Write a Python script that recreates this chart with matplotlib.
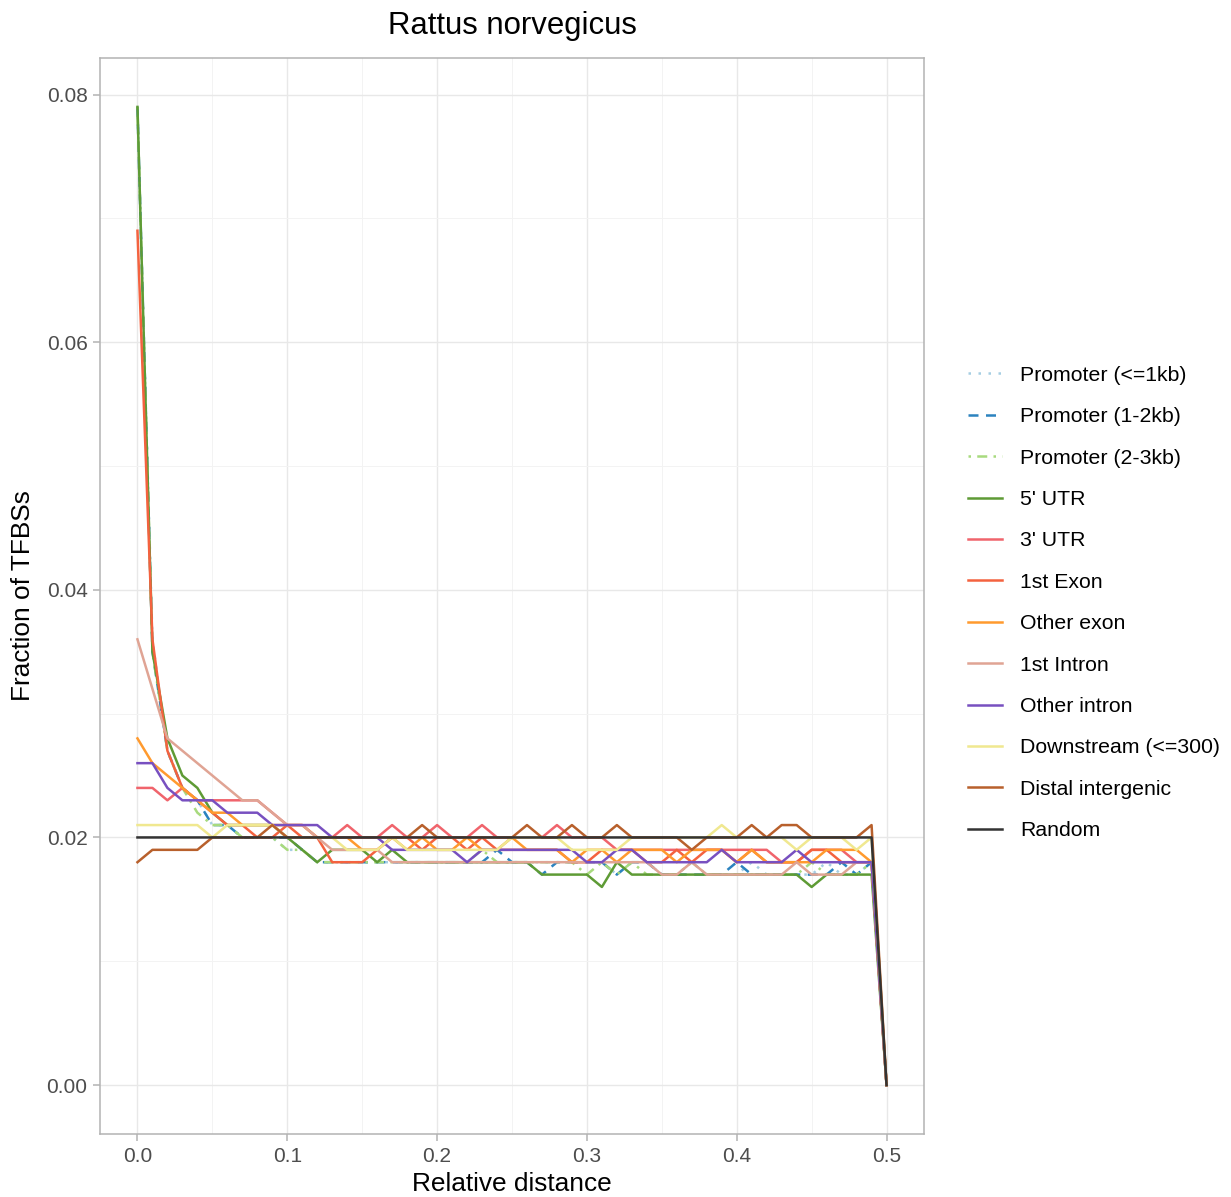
import numpy as np
import matplotlib
matplotlib.use("Agg")
import matplotlib.pyplot as plt
from matplotlib.ticker import MultipleLocator

plt.rcParams['font.family'] = ['Liberation Sans', 'DejaVu Sans']

# relative distance bins 0.00 .. 0.50
distance = np.round(np.arange(51) * 0.01, 2)

# fraction of TFBSs per bin (in units of 0.001)
promoter_1kb = [79, 36, 27, 24, 23, 21, 21, 20, 20, 20, 19, 19, 18, 18, 18, 18, 18, 18, 18, 18,
                18, 18, 18, 18, 18, 18, 18, 18, 18, 18, 18, 18, 17, 18, 18, 17, 17, 18, 17, 17,
                17, 18, 17, 17, 17, 17, 18, 17, 17, 18, 0]
promoter_2kb = [79, 35, 27, 24, 23, 21, 21, 20, 20, 20, 20, 19, 18, 18, 18, 18, 18, 18, 18, 18,
                18, 18, 18, 18, 19, 18, 18, 17, 18, 18, 18, 18, 17, 18, 18, 17, 17, 17, 17, 17,
                18, 17, 17, 17, 17, 17, 17, 18, 17, 18, 0]
promoter_3kb = [79, 35, 27, 24, 22, 21, 21, 20, 20, 20, 19, 19, 18, 18, 18, 18, 18, 18, 18, 18,
                18, 18, 18, 19, 18, 18, 18, 18, 18, 18, 17, 18, 17, 18, 17, 17, 17, 18, 17, 17,
                17, 17, 17, 17, 17, 18, 17, 17, 17, 18, 0]
utr5 = [79, 35, 28, 25, 24, 22, 21, 21, 21, 21, 20, 19, 18, 19, 19, 19, 18, 19, 18, 18,
        18, 18, 18, 18, 18, 18, 18, 17, 17, 17, 17, 16, 18, 17, 17, 17, 17, 17, 17, 17,
        17, 17, 17, 17, 17, 16, 17, 17, 17, 17, 0]
utr3 = [24, 24, 23, 24, 23, 23, 23, 23, 23, 22, 21, 21, 20, 20, 21, 20, 20, 21, 20, 20,
        21, 20, 20, 21, 20, 20, 20, 20, 21, 20, 20, 20, 19, 19, 19, 19, 19, 19, 19, 19,
        19, 19, 19, 18, 18, 19, 19, 19, 18, 18, 0]
exon1 = [69, 36, 27, 24, 23, 22, 21, 21, 20, 20, 21, 20, 20, 18, 18, 18, 19, 20, 20, 19,
         20, 20, 19, 20, 19, 19, 19, 19, 19, 18, 18, 19, 19, 19, 18, 18, 19, 18, 19, 19,
         18, 19, 18, 18, 18, 19, 19, 18, 18, 18, 0]
other_exon = [28, 26, 25, 24, 23, 22, 22, 21, 21, 21, 21, 21, 20, 20, 20, 19, 19, 20, 19, 20,
              19, 19, 20, 19, 19, 20, 19, 19, 19, 18, 19, 19, 18, 19, 19, 19, 18, 19, 19, 19,
              18, 19, 18, 18, 18, 18, 19, 19, 19, 18, 0]
intron1 = [36, 32, 28, 27, 26, 25, 24, 23, 23, 22, 21, 21, 20, 19, 19, 19, 19, 18, 18, 18,
           18, 18, 18, 18, 18, 18, 18, 18, 18, 18, 18, 18, 18, 18, 18, 17, 17, 18, 17, 17,
           17, 17, 17, 17, 18, 17, 17, 17, 18, 18, 0]
other_intron = [26, 26, 24, 23, 23, 23, 22, 22, 22, 21, 21, 21, 21, 20, 20, 20, 20, 19, 19, 19,
                19, 19, 18, 19, 19, 19, 19, 19, 19, 19, 18, 18, 19, 19, 18, 18, 18, 18, 18, 19,
                18, 18, 18, 18, 19, 18, 18, 18, 18, 18, 0]
downstream = [21, 21, 21, 21, 21, 20, 21, 21, 21, 21, 20, 20, 20, 20, 19, 19, 19, 20, 19, 19,
              19, 19, 19, 19, 19, 20, 20, 20, 20, 19, 19, 19, 19, 20, 20, 20, 20, 20, 20, 21,
              20, 20, 20, 20, 19, 20, 20, 20, 19, 20, 0]
distal = [18, 19, 19, 19, 19, 20, 20, 20, 20, 21, 20, 20, 20, 20, 20, 20, 20, 20, 20, 21,
          20, 20, 20, 20, 20, 20, 21, 20, 20, 21, 20, 20, 21, 20, 20, 20, 20, 19, 20, 20,
          20, 21, 20, 21, 21, 20, 20, 20, 20, 21, 0]
random_bg = [20] * 50 + [0]

labels = ["Promoter (<=1kb)", "Promoter (1-2kb)", "Promoter (2-3kb)", "5' UTR", "3' UTR",
          "1st Exon", "Other exon", "1st Intron", "Other intron", "Downstream (<=300)",
          "Distal intergenic", "Random"]
series = [promoter_1kb, promoter_2kb, promoter_3kb, utr5, utr3, exon1, other_exon,
          intron1, other_intron, downstream, distal, random_bg]
colors = ["#A6CEE3", "#2C83BF", "#A8DA7E", "#5E9B35", "#F0646C", "#F4623F", "#FF9A2E",
          "#E0A494", "#7850C0", "#F0E890", "#B8602C", "#333333"]
styles = [(0, (1, 3)), (0, (4, 3)), (0, (1, 2.5, 4, 2.5)), "-", "-", "-", "-", "-", "-", "-", "-", "-"]

fig = plt.figure(figsize=(12.31, 11.97), dpi=100)
ax = fig.add_axes([100 / 1231, 1 - 1134 / 1197, 824 / 1231, 1076 / 1197])

for lab, vals, col, ls in zip(labels, series, colors, styles):
    ax.plot(distance, np.array(vals) / 1000, color=col, linestyle=ls, lw=1.8, label=lab)

ax.set_xlim(-0.025, 0.525)
ax.set_ylim(-0.00395, 0.08295)
ax.xaxis.set_major_locator(MultipleLocator(0.1))
ax.xaxis.set_minor_locator(MultipleLocator(0.05))
ax.yaxis.set_major_locator(MultipleLocator(0.02))
ax.yaxis.set_minor_locator(MultipleLocator(0.01))
ax.xaxis.set_major_formatter(lambda v, p: f"{v:.1f}")
ax.yaxis.set_major_formatter(lambda v, p: f"{v:.2f}")
ax.grid(which="major", color="#E8E8E8", lw=1.0)
ax.grid(which="minor", color="#F3F3F3", lw=0.7)
ax.set_axisbelow(True)
for s in ax.spines.values():
    s.set_color("#B3B3B3")
    s.set_linewidth(1.1)
ax.tick_params(which="major", length=5, width=1.1, color="#B3B3B3", labelcolor="#4D4D4D",
               labelsize=15, pad=4)
ax.tick_params(which="minor", length=0)

ax.set_xlabel("Relative distance", fontsize=18.9, labelpad=5)
ax.set_ylabel("Fraction of TFBSs", fontsize=18.9, labelpad=8)
ax.set_title("Rattus norvegicus", fontsize=22.4, pad=17)

fig.legend(loc="center left", bbox_to_anchor=(968 / 1231, 1 - 603 / 1197), frameon=False,
           fontsize=15.3, handlelength=1.6, handletextpad=0.85, labelspacing=1.055,
           borderpad=0, borderaxespad=0)

fig.savefig("out.png", dpi=100)
